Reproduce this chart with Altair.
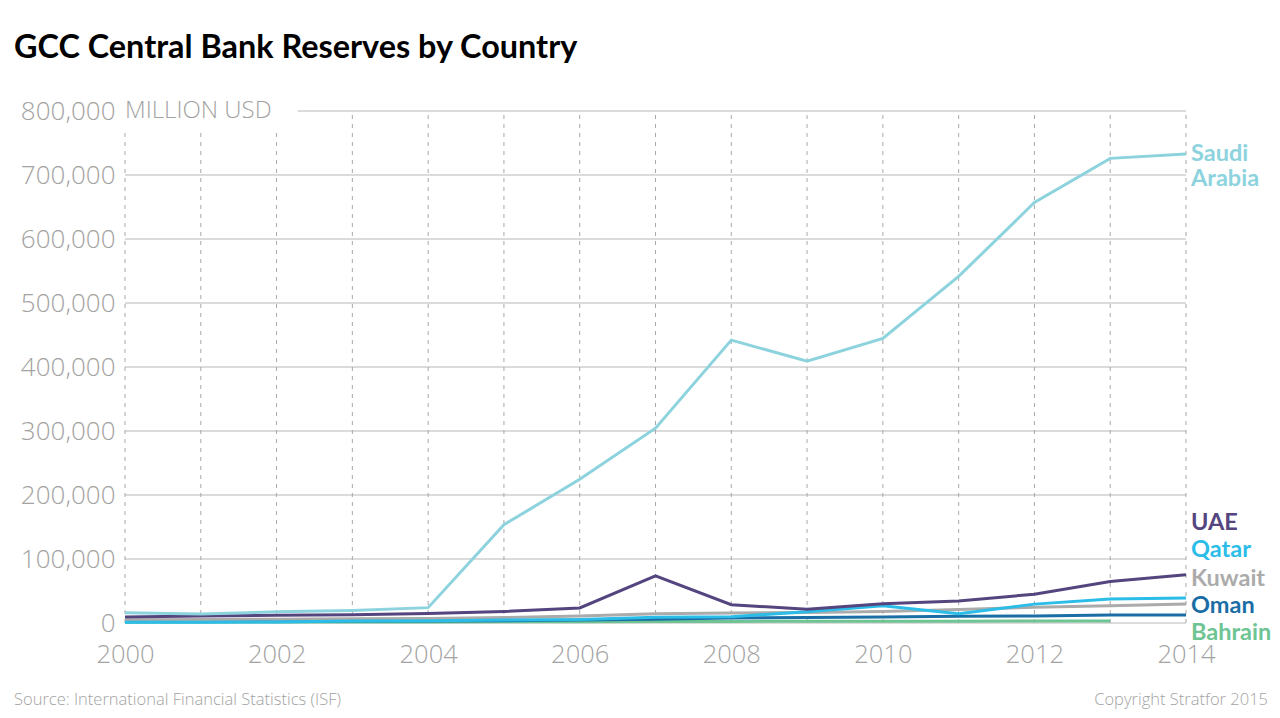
import altair as alt
import pandas as pd

# Central bank reserves, million USD
years = list(range(2000, 2015))
saudi = [16000, 14000, 17500, 19500, 24000, 153500, 224500, 304500, 442000, 409000, 444500, 541500, 657000, 726000, 733000]
uae = [9500, 11000, 12000, 13000, 15000, 18000, 23500, 73500, 28500, 21500, 30000, 34500, 45000, 65000, 75500]
qatar = [1200, 1300, 1600, 3000, 3400, 4600, 5400, 9000, 9800, 17500, 27000, 14500, 29500, 37500, 39000]
kuwait = [5000, 5500, 6000, 6500, 7000, 8500, 11000, 14500, 15500, 16500, 18000, 21000, 24500, 27000, 29500]
oman = [2400, 2400, 2800, 3000, 3000, 3500, 4500, 6000, 8000, 8500, 9500, 10500, 11000, 12500, 12500]
bahrain = [1300, 1400, 1500, 1600, 1700, 1800, 2000, 2300, 2500, 2600, 2800, 2900, 3000, 3100, None]

series = {
    "Bahrain": bahrain,
    "Oman": oman,
    "Kuwait": kuwait,
    "Qatar": qatar,
    "UAE": uae,
    "Saudi Arabia": saudi,
}
colors = {
    "Saudi Arabia": "#8dd3de",
    "UAE": "#54457f",
    "Qatar": "#2bbde8",
    "Kuwait": "#ababab",
    "Oman": "#1a6ea5",
    "Bahrain": "#6ec493",
}

# End-of-line labels: name, anchor value on the y scale
label_names = ["Saudi\nArabia", "UAE", "Qatar", "Kuwait", "Oman", "Bahrain"]
label_keys = ["Saudi Arabia", "UAE", "Qatar", "Kuwait", "Oman", "Bahrain"]
label_y = [734000, 157800, 115600, 70300, 28100, -14000]

y_ticks = [0, 100000, 200000, 300000, 400000, 500000, 600000, 700000, 800000]
x_labels = [2000, 2002, 2004, 2006, 2008, 2010, 2012, 2014]

rows = []
for name, vals in series.items():
    for yr, v in zip(years, vals):
        if v is not None:
            rows.append({"country": name, "year": yr, "value": v})
df = pd.DataFrame(rows)

order = list(series.keys())
xs = alt.Scale(domain=[2000, 2014], nice=False, zero=False)
ys = alt.Scale(domain=[0, 800000], nice=False)
grey_font = "Open Sans"
grey = "#a3a3a3"

x_axis = alt.Axis(
    values=x_labels, labelExpr="format(datum.value, 'd')", title=None, grid=False,
    domain=False, ticks=False, labelFlush=False,
    labelFont=grey_font, labelFontWeight=300, labelFontSize=25.5, labelColor=grey,
    labelPadding=19,
)
y_axis = alt.Axis(
    values=y_ticks, labelExpr="format(datum.value, ',')", title=None, grid=False,
    domain=False, ticks=False, labelFlush=False,
    labelFont=grey_font, labelFontWeight=300, labelFontSize=26, labelColor=grey,
    labelPadding=10,
)
color_scale = alt.Scale(domain=list(colors.keys()), range=list(colors.values()))

# Horizontal grid: the top line starts after the unit caption
hgrid = pd.DataFrame({
    "v": y_ticks,
    "x0": [2000] * 8 + [2002.28],
    "x1": [2014] * 9,
})
hrules = alt.Chart(hgrid).mark_rule(color="#b8b8b8", strokeWidth=1.2).encode(
    x=alt.X("x0:Q", scale=xs, axis=x_axis),
    x2="x1:Q",
    y=alt.Y("v:Q", scale=ys, axis=y_axis),
)

vgrid = pd.DataFrame({
    "yr": years,
    "top": [770000] * 3 + [800000] * 12,
    "bottom": [0] * 15,
})
vrules = alt.Chart(vgrid).mark_rule(color="#a8a8a8", strokeWidth=1, strokeDash=[4, 5]).encode(
    x=alt.X("yr:Q", scale=xs, axis=x_axis),
    y=alt.Y("bottom:Q", scale=ys, axis=y_axis),
    y2="top:Q",
)

lines = alt.Chart(df).mark_line(strokeWidth=3, interpolate="linear").encode(
    x=alt.X("year:Q", scale=xs, axis=x_axis),
    y=alt.Y("value:Q", scale=ys, axis=y_axis),
    color=alt.Color("country:N", scale=color_scale, legend=None),
    order=alt.Order("order:Q"),
    detail="country:N",
).transform_calculate(
    order="indexof(" + str(order).replace("'", '"') + ", datum.country)"
)

unit = alt.Chart(pd.DataFrame({"t": ["MILLION USD"], "v": [800000], "x": [2000]})).mark_text(
    align="left", baseline="middle", font=grey_font, fontWeight=300, fontSize=24, color=grey,
).encode(
    x=alt.X("x:Q", scale=xs, axis=x_axis),
    y=alt.Y("v:Q", scale=ys, axis=y_axis),
    text="t:N",
)

labels_df = pd.DataFrame({
    "name": label_names,
    "key": label_keys,
    "v": label_y,
    "x": [2014] * 6,
})
labels = alt.Chart(labels_df).mark_text(
    align="left", baseline="middle", font="Lato", fontWeight="bold", fontSize=23.5,
    dx=5, dy=1, lineBreak="\n", lineHeight=25,
).encode(
    x=alt.X("x:Q", scale=xs, axis=x_axis),
    y=alt.Y("v:Q", scale=ys, axis=y_axis),
    text="name:N",
    color=alt.Color("key:N", scale=color_scale, legend=None),
)

title = alt.Chart(pd.DataFrame({"t": ["GCC Central Bank Reserves by Country"]})).mark_text(
    align="left", baseline="alphabetic", font="Lato", fontWeight="bold", fontSize=32.4, color="#000000",
).encode(x=alt.value(-111), y=alt.value(-53), text="t:N")

source = alt.Chart(pd.DataFrame({"t": ["Source: International Financial Statistics (ISF)"]})).mark_text(
    align="left", baseline="middle", font=grey_font, fontWeight=300, fontSize=16.5, color=grey,
).encode(x=alt.value(-111), y=alt.value(589), text="t:N")

copyright_ = alt.Chart(pd.DataFrame({"t": ["Copyright Stratfor 2015"]})).mark_text(
    align="right", baseline="middle", font=grey_font, fontWeight=300, fontSize=16.5, color=grey,
).encode(x=alt.value(1143), y=alt.value(589), text="t:N")

chart = alt.layer(
    hrules, vrules, lines, unit, labels, title, source, copyright_
).properties(
    width=1061,
    height=512,
    autosize=alt.AutoSizeParams(type="none"),
    padding={"left": 125, "top": 111, "right": 94, "bottom": 95},
    background="#ffffff",
).configure_view(stroke=None)

chart.save("out.html", embed_options={"renderer": "svg", "actions": False})
